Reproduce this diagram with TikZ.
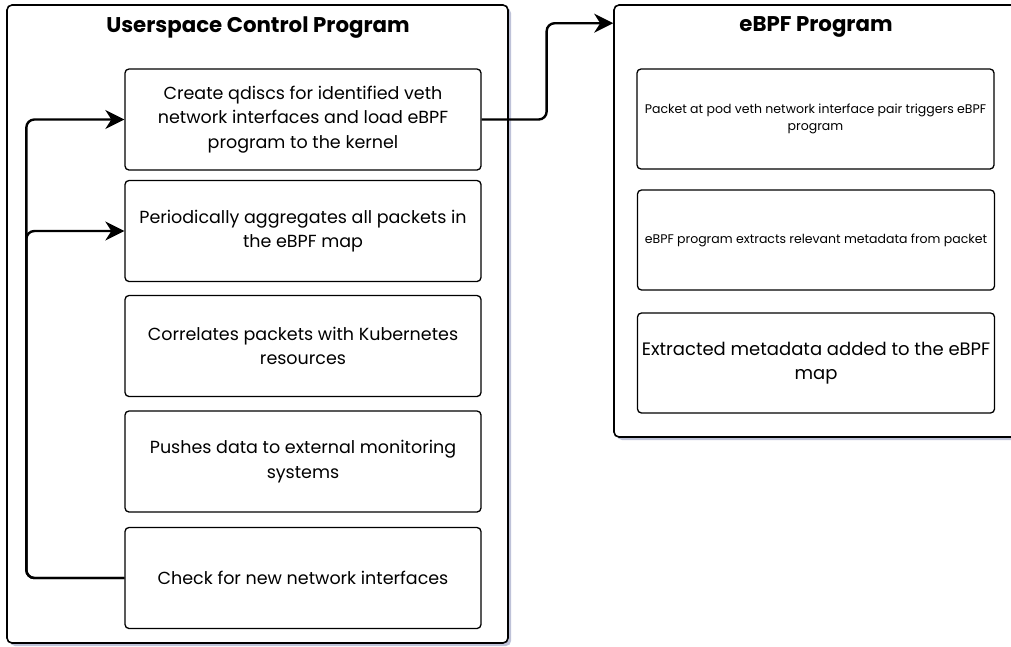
\documentclass[tikz,border=0pt]{standalone}
\usepackage{fontspec}
\setmainfont{Poppins}
\usetikzlibrary{arrows.meta,shadows}
\definecolor{shade}{RGB}{190,194,216}

\tikzset{
  container/.style={draw, line width=1.6pt, rounded corners=5pt, fill=white,
    inner sep=0pt, general shadow={fill=shade, shadow xshift=3pt, shadow yshift=-3pt}},
  stepbox/.style={draw, line width=1.3pt, rounded corners=4pt, fill=white,
    minimum width=356pt, minimum height=101pt, align=center, inner sep=1pt},
  boxtext/.style={font=\fontsize{17.5}{24.5}\selectfont},
  smalltext/.style={font=\fontsize{12.5}{17}\selectfont},
  bigtext/.style={font=\fontsize{18}{24.5}\selectfont},
  title/.style={font=\bfseries\fontsize{21.3}{24}\selectfont},
  conn/.style={line width=2.4pt, rounded corners=8pt, -{Stealth[length=19pt,width=19pt,inset=6pt]}}
}

\begin{document}
\begin{tikzpicture}[x=1pt, y=-1pt]
\useasboundingbox (0,0) rectangle (1011,646);

% containers
\node[container, minimum width=501pt, minimum height=638pt] (cL) at (257.5,324) {};
\node[container, minimum width=412pt, minimum height=432pt] (cR) at (820,221) {};

\node[title] (tL) at (258,27.5) {Userspace Control Program};
\node[title] (tR) at (816,26.5) {eBPF Program};

% userspace steps
\node[stepbox, boxtext] (b1) at (303,119.5) {Create qdiscs for identified veth\\network interfaces and load eBPF\\program to the kernel};
\node[stepbox, boxtext] (b2) at (303,231) {Periodically aggregates all packets in\\the eBPF map};
\node[stepbox, boxtext] (b3) at (303,346) {Correlates packets with Kubernetes\\resources};
\node[stepbox, boxtext] (b4) at (303,461.5) {Pushes data to external monitoring\\systems};
\node[stepbox, boxtext] (b5) at (303,578) {Check for new network interfaces};

% eBPF steps
\node[stepbox, smalltext, minimum width=357pt, minimum height=100pt] (e1) at (815.5,119) {Packet at pod veth network interface pair triggers eBPF\\program};
\node[stepbox, smalltext, minimum width=357pt, minimum height=100pt] (e2) at (816,240) {eBPF program extracts relevant metadata from packet};
\node[stepbox, bigtext, minimum width=357pt, minimum height=100pt] (e3) at (816,363) {Extracted metadata added to the eBPF\\map};

% connectors
\draw[conn] (b1.east) -- ++(65,0) |- ([yshift=-19pt]cR.north west);
\draw[conn] (b5.west) -- ++(-98,0) |- (b1.west);
\draw[conn] (b5.west) -- ++(-98,0) |- (b2.west);
\end{tikzpicture}
\end{document}
